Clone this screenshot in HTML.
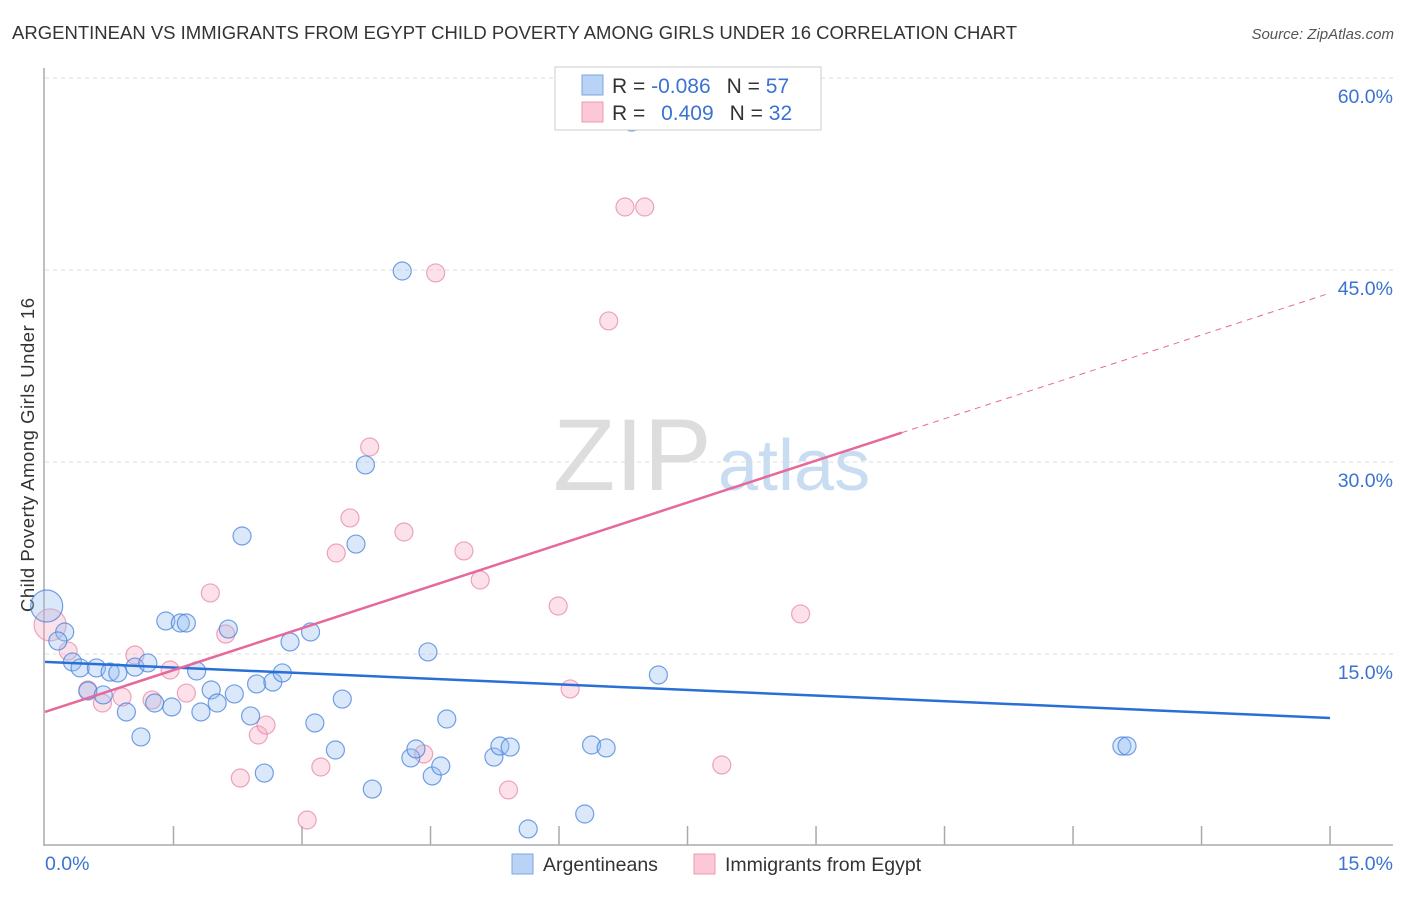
<!DOCTYPE html>
<html><head><meta charset="utf-8"><style>
body{margin:0;background:#fff;font-family:"Liberation Sans",sans-serif}
svg text{font-family:"Liberation Sans",sans-serif}
</style></head><body>
<svg id="c" width="1406" height="892">
<text x="12" y="39" font-size="18.5" fill="#333" textLength="1005">ARGENTINEAN VS IMMIGRANTS FROM EGYPT CHILD POVERTY AMONG GIRLS UNDER 16 CORRELATION CHART</text>
<text x="1394" y="39" font-size="15" fill="#555" font-style="italic" text-anchor="end">Source: ZipAtlas.com</text>
<g><text x="553" y="490" font-size="102" fill="#ddd" font-family="Liberation Serif">ZIP</text><text x="718" y="490" font-size="72" fill="#c8dcf2">atlas</text></g>
<text x="34" y="455" font-size="18.5" fill="#333" text-anchor="middle" textLength="314" transform="rotate(-90 34 455)">Child Poverty Among Girls Under 16</text>
<g id="grid"></g><g id="axes"></g><g id="marks"></g><g id="trend"></g>
<g>
<rect x="555" y="67" width="266" height="63" fill="#fff" stroke="#ccc"/>
<rect x="582" y="75" width="21" height="20" fill="#b9d3f5" stroke="#7aa6e6"/>
<rect x="582" y="102" width="21" height="20" fill="#fac8d6" stroke="#eb9ab2"/>
<text x="612" y="93" font-size="21" fill="#333">R = <tspan fill="#3b73d1">-0.086</tspan><tspan dx="16">N = </tspan><tspan fill="#3b73d1">57</tspan></text>
<text x="612" y="120" font-size="21" fill="#333">R = <tspan dx="10" fill="#3b73d1">0.409</tspan><tspan dx="16">N = </tspan><tspan fill="#3b73d1">32</tspan></text>
</g>
<g>
<rect x="512" y="854" width="21" height="20" fill="#b9d3f5" stroke="#7aa6e6"/>
<text x="543" y="871" font-size="19.5" fill="#333">Argentineans</text>
<rect x="694" y="854" width="21" height="20" fill="#fac8d6" stroke="#eb9ab2"/>
<text x="725" y="871" font-size="19.5" fill="#333">Immigrants from Egypt</text>
</g>
</svg>
<script>
const blueX=[0.02,0.23,0.15,0.32,0.41,0.60,0.76,0.85,1.05,1.20,0.50,0.68,0.95,1.12,1.28,1.48,1.41,1.58,1.65,1.77,1.82,1.94,2.01,2.14,2.21,2.30,2.40,2.47,2.56,2.66,2.77,2.86,3.10,3.15,3.39,3.47,3.63,3.74,3.82,4.17,4.27,4.33,4.47,4.52,4.62,4.69,5.24,5.31,5.43,5.64,6.30,6.38,6.55,6.85,7.16,12.57,12.63];
const blueY=[18.75,16.72,16.02,14.38,13.91,13.91,13.59,13.52,13.98,14.30,12.11,11.80,10.47,8.52,11.17,10.86,17.58,17.42,17.42,13.67,10.47,12.19,11.17,16.95,11.88,24.22,10.16,12.66,5.70,12.81,13.52,15.94,16.72,9.61,7.50,11.48,23.59,29.77,4.45,44.92,6.88,7.58,15.16,5.47,6.25,9.92,6.95,7.81,7.73,1.33,2.50,7.89,7.66,56.56,13.36,7.81,7.81];
const pinkX=[0.06,0.27,0.50,0.67,0.90,1.05,1.25,1.46,1.65,1.93,2.11,2.28,2.49,2.58,3.06,3.22,3.40,3.56,3.79,4.19,4.42,4.56,4.89,5.08,5.41,5.99,6.13,6.58,6.77,7.00,7.90,8.82];
const pinkY=[17.27,15.23,12.19,11.17,11.64,14.92,11.41,13.75,11.95,19.77,16.56,5.31,8.67,9.45,2.03,6.17,22.89,25.63,31.17,24.53,7.19,44.77,23.05,20.78,4.38,18.75,12.27,41.02,49.92,49.92,6.33,18.13];
const yTicks=[15,30,45,60];
const yTickLabels=["15.0%","30.0%","45.0%","60.0%"];
const blueTrend=[14.38,10.0];
const pinkTrend=[10.47,43.2];
const pinkSolidEnd=10.0;
const X=v=>45+v*85.67, Y=v=>846-v*12.8;
const NS="http://www.w3.org/2000/svg";
function mk(t,a,p){const e=document.createElementNS(NS,t);for(const k in a)e.setAttribute(k,a[k]);p.appendChild(e);return e;}
const grid=document.getElementById('grid'),axes=document.getElementById('axes'),marks=document.getElementById('marks'),trend=document.getElementById('trend');
yTicks.forEach((t,i)=>{const l=mk('line',{x1:45,x2:1393,y1:Y(t),y2:Y(t),stroke:'#ddd','stroke-dasharray':'4,4'},grid);


const tx=mk('text',{x:1393,y:Y(t)+25,'font-size':19.5,fill:'#3b73d1','text-anchor':'end'},axes);tx.textContent=yTickLabels[i];

});
mk('line',{x1:44,x2:44,y1:68,y2:846,stroke:'#aaa','stroke-width':1.5},axes);
mk('line',{x1:44,x2:1393,y1:845,y2:845,stroke:'#aaa','stroke-width':1.5},axes);
for(let i=1;i<=10;i++){const t=mk('line',{x1:X(i*1.5),x2:X(i*1.5),y1:826,y2:845,stroke:'#aaa','stroke-width':1.5},axes);

}
let a=mk('text',{x:45,y:870,'font-size':19.5,fill:'#3b73d1'},axes);a.textContent='0.0%';


a=mk('text',{x:1393,y:870,'font-size':19.5,fill:'#3b73d1','text-anchor':'end'},axes);a.textContent='15.0%';


pinkX.forEach((x,i)=>{const c=mk('circle',{cx:X(x),cy:Y(pinkY[i]),r:i==0?16:9,fill:'rgba(246,170,195,0.35)',stroke:'rgba(230,130,160,0.7)','stroke-width':1.2},marks);

});
blueX.forEach((x,i)=>{const c=mk('circle',{cx:X(x),cy:Y(blueY[i]),r:i==0?16:9,fill:'rgba(150,190,240,0.35)',stroke:'rgba(70,130,220,0.75)','stroke-width':1.2},marks);

});
let l=mk('line',{x1:X(0),y1:Y(blueTrend[0]),x2:X(15),y2:Y(blueTrend[1]),stroke:'#2a6fd6','stroke-width':2.5},trend);


const py=v=>pinkTrend[0]+(pinkTrend[1]-pinkTrend[0])*v/15;
l=mk('line',{x1:X(0),y1:Y(pinkTrend[0]),x2:X(pinkSolidEnd),y2:Y(py(pinkSolidEnd)),stroke:'#e5699a','stroke-width':2.5},trend);


l=mk('line',{x1:X(pinkSolidEnd),y1:Y(py(pinkSolidEnd)),x2:X(15),y2:Y(pinkTrend[1]),stroke:'#e5699a','stroke-width':1,'stroke-dasharray':'6,5'},trend);


</script>
</body></html>
